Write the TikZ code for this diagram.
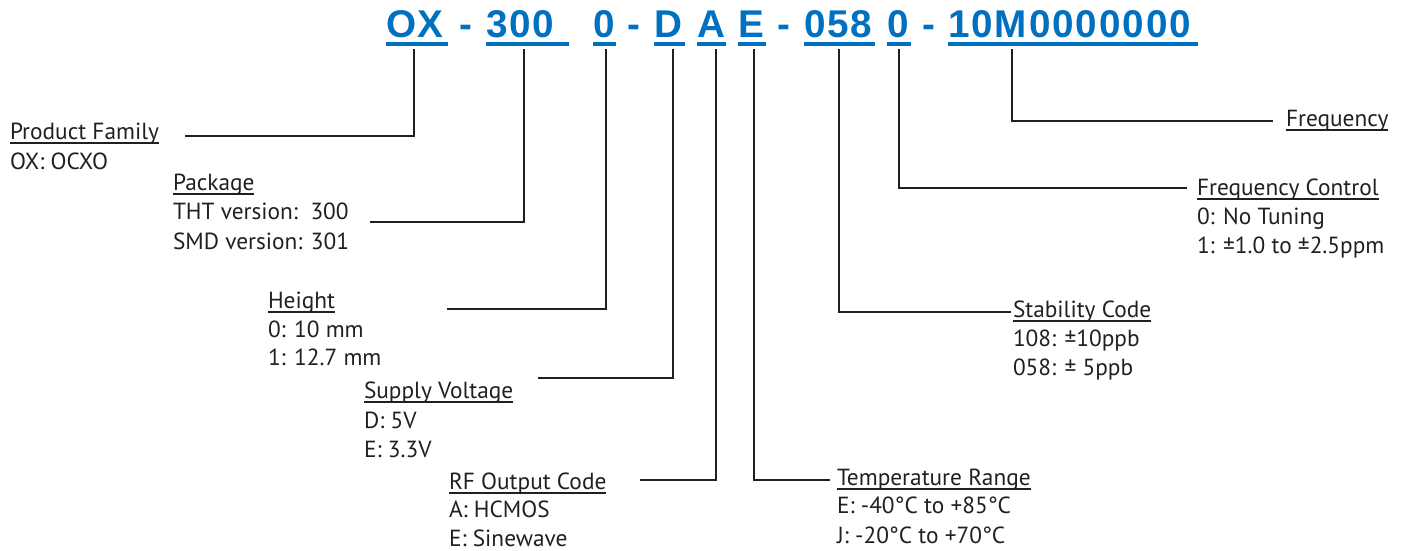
\documentclass[tikz,border=0pt]{standalone}
\usepackage{fontspec}
\setmainfont{PT Sans}
\newfontfamily\codefont[LetterSpace=5]{Liberation Sans}
\usetikzlibrary{calc}
\definecolor{pblue}{RGB}{0,112,192}
\definecolor{lk}{RGB}{35,31,32}
\newdimen\PX \PX=0.75pt
\begin{document}
\begin{tikzpicture}[x=0.75pt,y=-0.75pt,
  code/.style={font=\codefont\bfseries\fontsize{29}{31}\selectfont, text=pblue,
    inner xsep=0pt, inner ysep=7\PX, outer sep=0pt, text depth=0pt,
    anchor=base west, align=left},
  dashnode/.style={font=\codefont\bfseries\fontsize{29}{31}\selectfont, text=pblue,
    inner sep=0pt, anchor=base},
  cul/.style={draw=pblue, line width=3.5\PX},
  lead/.style={draw=lk, line width=2.5\PX, shorten <=5\PX, line join=miter},
  hd/.style={inner sep=0pt, outer sep=0pt, anchor=base west, text=lk,
    font=\fontsize{17.5}{20}\selectfont},
  hul/.style={draw=lk, line width=1.3\PX},
]
\useasboundingbox (0,0) rectangle (1407,550);

% ---- part number ----
\node[code, text width=62\PX] (ox) at (386,37) {OX};
\node[dashnode] (d1) at (466,37) {-};
\node[code, text width=83\PX] (pk) at (486,37) {300};
\node[code, text width=23\PX] (ht) at (593,37) {0};
\node[dashnode] (d2) at (634,37) {-};
\node[code, text width=31\PX] (sv) at (654,37) {D};
\node[code, text width=29\PX] (rf) at (697,37) {A};
\node[code, text width=28\PX] (tr) at (738,37) {E};
\node[dashnode] (d3) at (784,37) {-};
\node[code, text width=71\PX] (sc) at (804,37) {058};
\node[code, text width=24\PX] (fc) at (887,37) {0};
\node[dashnode] (d4) at (929,37) {-};
\node[code, text width=250\PX] (fq) at (948,37) {10M0000000};

\foreach \n in {ox,pk,ht,sv,rf,tr,sc,fc,fq}
  \draw[cul] (\n.south west) -- (\n.south east);

% ---- labels ----
\node[hd] (h1) at (10,139) {Product Family};
\node[hd] (t1a) at (10,169) {OX: OCXO};

\node[hd] (h2) at (173,190) {Package};
\node[hd] (t2a) at (173,219) {THT version:\ \ 300};
\node[hd] (t2b) at (173,249) {SMD version: 301};

\node[hd] (h3) at (268,308) {Height};
\node[hd] (t3a) at (268,337) {0: 10 mm};
\node[hd] (t3b) at (268,365) {1: 12.7 mm};

\node[hd] (h4) at (364,398) {Supply Voltage};
\node[hd] (t4a) at (364,428) {D: 5V};
\node[hd] (t4b) at (364,457) {E: 3.3V};

\node[hd] (h5) at (449,489) {RF Output Code};
\node[hd] (t5a) at (449,517) {A: HCMOS};
\node[hd] (t5b) at (449,546) {E: Sinewave};

\node[hd] (h6) at (837,485) {Temperature Range};
\node[hd] (t6a) at (837,513) {E: -40°C to +85°C};
\node[hd] (t6b) at (837,543) {J: -20°C to +70°C};

\node[hd] (h7) at (1013,317) {Stability Code};
\node[hd] (t7a) at (1013,346) {108: ±10ppb};
\node[hd] (t7b) at (1013,375) {058: ± 5ppb};

\node[hd] (h8) at (1197,195) {Frequency Control};
\node[hd] (t8a) at (1197,224) {0: No Tuning};
\node[hd] (t8b) at (1197,253) {1: ±1.0 to ±2.5ppm};

\node[hd] (h9) at (1286,126) {Frequency};

\foreach \n in {h1,h2,h3,h4,h5,h6,h7,h8,h9}
  \draw[hul] ([yshift=-4\PX]\n.base west) -- ([yshift=-4\PX]\n.base east);

% ---- connector ends ----
\coordinate (e1) at (185,136);
\coordinate (e2) at (370,222);
\coordinate (e3) at (447,309);
\coordinate (e4) at (538,378);
\coordinate (e5) at (640,480);
\coordinate (e6) at (830,480);
\coordinate (e7) at (1011,312);
\coordinate (e8) at (1187,188);
\coordinate (e9) at (1273,121);

\draw[lead] ($(ox.south west)+(28,0)$) |- (e1);
\draw[lead] ($(pk.south west)+(38,0)$) |- (e2);
\draw[lead] ($(ht.south west)+(13,0)$) |- (e3);
\draw[lead] ($(sv.south west)+(19,0)$) |- (e4);
\draw[lead] ($(rf.south west)+(19,0)$) |- (e5);
\draw[lead] ($(tr.south west)+(16,0)$) |- (e6);
\draw[lead] ($(sc.south west)+(35,0)$) |- (e7);
\draw[lead] ($(fc.south west)+(12,0)$) |- (e8);
\draw[lead] ($(fq.south west)+(64,0)$) |- (e9);
\end{tikzpicture}
\end{document}
